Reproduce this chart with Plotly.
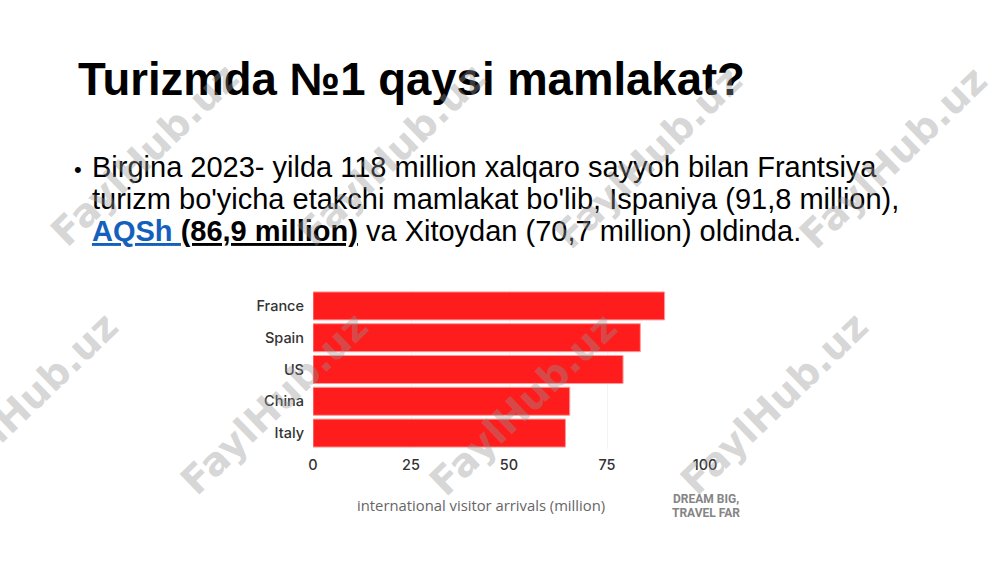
import plotly.graph_objects as go

# ---- data ----
countries = ["France", "Spain", "US", "China", "Italy"]
arrivals = [89.7, 83.5, 79.1, 65.5, 64.4]
x_ticks = [0, 25, 50, 75, 100]

title_text = "Turizmda №1 qaysi mamlakat?"
bullet_lines = [
    "Birgina 2023- yilda 118 million xalqaro sayyoh bilan Frantsiya",
    "turizm bo'yicha etakchi mamlakat bo'lib, Ispaniya (91,8 million),",
    "<span style='color:#1560bd'><b><u>AQSh </u></b></span><b><u>(86,9 million)</u></b> va Xitoydan (70,7 million) oldinda.",
]
x_title = "international visitor arrivals (million)"
brand_lines = ["DREAM BIG,", "TRAVEL FAR"]
watermark = "FaylHub.uz"

W, H = 1000, 562


def px(x):
    return x / W


def py(y):
    return 1 - y / H


fig = go.Figure()
fig.add_trace(go.Bar(
    x=arrivals, y=countries, orientation="h",
    marker=dict(color="#ff1c1c", line=dict(color="#ff9a9a", width=1)),
    hoverinfo="skip",
))

annotations = []
# title
annotations.append(dict(
    x=px(75.5), y=py(80), xref="paper", yref="paper", xanchor="left", yanchor="middle",
    text="<b>" + title_text + "</b>", showarrow=False,
    font=dict(family="Liberation Sans, Arial", size=45.5, color="#000000"),
))
# bullet
annotations.append(dict(
    x=px(78), y=py(169), xref="paper", yref="paper", xanchor="center", yanchor="middle",
    text="•", showarrow=False,
    font=dict(family="Liberation Sans, Arial", size=22, color="#000000"),
))
line_y = [167, 199, 231]
for txt, yy in zip(bullet_lines, line_y):
    annotations.append(dict(
        x=px(89.5), y=py(yy), xref="paper", yref="paper", xanchor="left", yanchor="middle",
        text=txt, showarrow=False,
        font=dict(family="Liberation Sans, Arial", size=29, color="#000000"),
    ))
# axis title
annotations.append(dict(
    x=px(481), y=py(505), xref="paper", yref="paper", xanchor="center", yanchor="middle",
    text=x_title, showarrow=False,
    font=dict(family="Open Sans", size=14.8, color="#666666"),
))
# brand
for txt, yy in zip(brand_lines, [499, 513]):
    annotations.append(dict(
        x=px(706), y=py(yy), xref="paper", yref="paper", xanchor="center", yanchor="middle",
        text="<b>" + txt + "</b>", showarrow=False,
        font=dict(family="Roboto", size=12, color="#858585"),
    ))
# watermarks
wm_centers = [(145, 155), (392, 155), (648, 157), (893, 157),
              (24, 403), (274, 403), (523, 404), (774, 403)]
for cx, cy in wm_centers:
    annotations.append(dict(
        x=px(cx), y=py(cy), xref="paper", yref="paper", xanchor="center", yanchor="middle",
        text="<b>" + watermark + "</b>", showarrow=False, textangle=-44,
        font=dict(family="DejaVu Sans", size=39, color="rgba(150,150,150,0.38)"),
    ))

fig.update_layout(
    width=W, height=H,
    margin=dict(l=0, r=0, t=0, b=0, autoexpand=False),
    paper_bgcolor="white", plot_bgcolor="white",
    showlegend=False,
    bargap=0.12,
    xaxis=dict(
        domain=[px(313), px(705)], range=[0, 100], tickvals=x_ticks,
        showgrid=True, gridcolor="#f4f4f4", zeroline=False, showline=False,
        tickfont=dict(family="Inter", size=14.5, color="#333333", weight=500),
        ticks="", ticklabelstandoff=5, fixedrange=True, automargin=False,
    ),
    yaxis=dict(
        domain=[py(449), py(290)],
        categoryorder="array", categoryarray=countries, autorange="reversed",
        showgrid=False, zeroline=False, showline=False,
        tickfont=dict(family="Inter", size=14.5, color="#333333", weight=500),
        ticks="", ticklabelstandoff=8, fixedrange=True, automargin=False,
    ),
    annotations=annotations,
)

fig.write_html(
    "out.html",
    config={"displayModeBar": False},
    post_script="document.body.style.margin='0';document.body.style.padding='0';",
)
